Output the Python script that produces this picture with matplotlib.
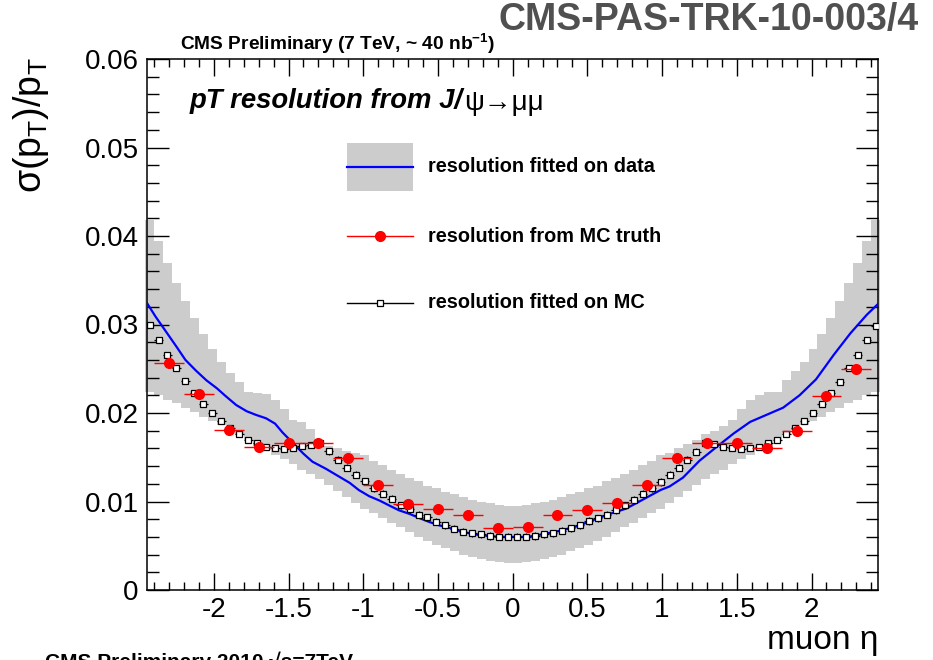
import numpy as np
import matplotlib
matplotlib.use('Agg')
import matplotlib.pyplot as plt
from matplotlib.patches import Rectangle
from matplotlib.lines import Line2D

plt.rcParams['font.family'] = ['Liberation Sans', 'DejaVu Sans']
plt.rcParams['mathtext.fontset'] = 'custom'
plt.rcParams['mathtext.rm'] = 'Liberation Sans'
plt.rcParams['mathtext.it'] = 'Liberation Sans:italic'
plt.rcParams['mathtext.bf'] = 'Liberation Sans:bold'

# ---------------- data ----------------
band_eta_min = -2.46
band_eta_max = 2.46

band_upper = [0.0418, 0.0394, 0.0370, 0.0347, 0.0327, 0.0307, 0.0289, 0.0272, 0.0258, 0.0245,
              0.0235, 0.0224, 0.0223, 0.0221, 0.0215, 0.0205, 0.0192, 0.0190, 0.0182, 0.0170,
              0.0163, 0.0160, 0.0157, 0.0155, 0.0152, 0.0146, 0.0141, 0.0136, 0.0131, 0.0127,
              0.0123, 0.0118, 0.0115, 0.0111, 0.0108, 0.0105, 0.0102, 0.0100, 0.0098, 0.0096,
              0.0095,
              0.0095, 0.0096, 0.0098, 0.0100, 0.0102, 0.0105, 0.0108, 0.0111, 0.0115, 0.0118,
              0.0123, 0.0127, 0.0131, 0.0136, 0.0141, 0.0146, 0.0152, 0.0155, 0.0160, 0.0165,
              0.0170, 0.0176, 0.0180, 0.0185, 0.0192, 0.0205, 0.0215, 0.0220, 0.0224, 0.0224,
              0.0237, 0.0248, 0.0258, 0.0272, 0.0289, 0.0307, 0.0326, 0.0347, 0.0370, 0.0394,
              0.0418]

band_lower = [0.0224, 0.0220, 0.0215, 0.0211, 0.0206, 0.0201, 0.0196, 0.0191, 0.0187, 0.0181,
              0.0175, 0.0169, 0.0163, 0.0158, 0.0153, 0.0148, 0.0142, 0.0136, 0.0131, 0.0125,
              0.0119, 0.0112, 0.0105, 0.0098, 0.0092, 0.0087, 0.0081, 0.0076, 0.0071, 0.0066,
              0.0060, 0.0055, 0.0051, 0.0047, 0.0044, 0.0040, 0.0037, 0.0035, 0.0033, 0.0032,
              0.0031,
              0.0031, 0.0032, 0.0033, 0.0035, 0.0037, 0.0040, 0.0044, 0.0047, 0.0051, 0.0055,
              0.0060, 0.0066, 0.0071, 0.0076, 0.0081, 0.0087, 0.0092, 0.0098, 0.0105, 0.0112,
              0.0119, 0.0125, 0.0131, 0.0136, 0.0142, 0.0148, 0.0153, 0.0158, 0.0163, 0.0169,
              0.0175, 0.0181, 0.0187, 0.0191, 0.0196, 0.0201, 0.0206, 0.0211, 0.0215, 0.0220,
              0.0224]

mc_res = [0.0299, 0.0282, 0.0266, 0.0251, 0.0236, 0.0223, 0.0210, 0.0200, 0.0191, 0.0183,
          0.0176, 0.0170, 0.0166, 0.0162, 0.0161, 0.0159, 0.0161, 0.0163, 0.0164, 0.0166,
          0.0157, 0.0147, 0.0138, 0.0130, 0.0123, 0.0115, 0.0109, 0.0103, 0.0096, 0.0091,
          0.0085, 0.0082, 0.0077, 0.0073, 0.0069, 0.0066, 0.0064, 0.0063, 0.0061, 0.0060,
          0.0060,
          0.0060, 0.0060, 0.0061, 0.0063, 0.0064, 0.0067, 0.0070, 0.0073, 0.0078, 0.0081,
          0.0085, 0.0090, 0.0096, 0.0102, 0.0109, 0.0115, 0.0122, 0.0130, 0.0138, 0.0147,
          0.0156, 0.0166, 0.0165, 0.0162, 0.0161, 0.0159, 0.0161, 0.0162, 0.0166, 0.0170,
          0.0176, 0.0183, 0.0191, 0.0200, 0.0210, 0.0223, 0.0235, 0.0251, 0.0266, 0.0282,
          0.0298]

mc_err = [0.0002] * 20 + [0.0004] * 42 + [0.0002] * 20

truth_eta = [-2.3, -2.1, -1.9, -1.7, -1.5, -1.3, -1.1, -0.9, -0.7, -0.5, -0.3, -0.1,
             0.1, 0.3, 0.5, 0.7, 0.9, 1.1, 1.3, 1.5, 1.7, 1.9, 2.1, 2.3]
truth_res = [0.0257, 0.0221, 0.0181, 0.0162, 0.0166, 0.0166, 0.0149, 0.0119, 0.0097, 0.0091,
             0.0085, 0.0070, 0.0071, 0.0085, 0.0090, 0.0098, 0.0119, 0.0149, 0.0166, 0.0166,
             0.0161, 0.0180, 0.0219, 0.0250]
truth_err = [0.0003] * 24
truth_xerr = 0.1

fit_eta = [-2.45, -2.39, -2.32, -2.25, -2.19, -2.12, -2.05, -1.98, -1.92, -1.85,
           -1.78, -1.72, -1.65, -1.59, -1.54, -1.47, -1.40, -1.34, -1.25, -1.16,
           -1.09, -1.03, -0.96, -0.89, -0.82, -0.76, -0.69, -0.62, -0.56, -0.49,
           -0.42, -0.36, -0.29, -0.22, -0.15, -0.09, 0.00, 0.10, 0.20, 0.32,
           0.43, 0.54, 0.65, 0.76, 0.87, 0.99, 1.05, 1.14, 1.25, 1.36,
           1.48, 1.59, 1.70, 1.81, 1.92, 2.03, 2.15, 2.26, 2.37, 2.45]
fit_res = [0.0325, 0.0309, 0.0292, 0.0275, 0.0260, 0.0248, 0.0237, 0.0228, 0.0219, 0.0209,
           0.0202, 0.0198, 0.0194, 0.0188, 0.0178, 0.0166, 0.0154, 0.0145, 0.0137, 0.0128,
           0.0121, 0.0113, 0.0106, 0.0101, 0.0095, 0.0090, 0.0086, 0.0081, 0.0077, 0.0073,
           0.0070, 0.0067, 0.0064, 0.0062, 0.0061, 0.0060, 0.0060, 0.0060, 0.0063, 0.0067,
           0.0072, 0.0079, 0.0086, 0.0092, 0.0102, 0.0113, 0.0117, 0.0127, 0.0146, 0.0161,
           0.0177, 0.0190, 0.0198, 0.0206, 0.0220, 0.0238, 0.0266, 0.0290, 0.0311, 0.0324]

x_ticks = [-2, -1.5, -1, -0.5, 0, 0.5, 1, 1.5, 2]
x_tick_labels = ['-2', '-1.5', '-1', '-0.5', '0', '0.5', '1', '1.5', '2']
y_ticks = [0, 0.01, 0.02, 0.03, 0.04, 0.05, 0.06]
y_tick_labels = ['0', '0.01', '0.02', '0.03', '0.04', '0.05', '0.06']

legend_labels = ['resolution fitted on data', 'resolution from MC truth', 'resolution fitted on MC']

# ---------------- figure ----------------
W, H = 933, 660
fig = plt.figure(figsize=(W / 100, H / 100), dpi=100)
L, R, T, B = 147, 878.3, 59, 590
ax = fig.add_axes([L / W, 1 - B / H, (R - L) / W, (B - T) / H])

nb = len(band_upper)
edges = np.linspace(band_eta_min, band_eta_max, nb + 1)
centers = 0.5 * (edges[:-1] + edges[1:])
halfw = 0.5 * (edges[1] - edges[0])

band_col = '#cccccc'
ax.stairs(band_upper, edges, baseline=band_lower, fill=True, color=band_col,
          linewidth=0, zorder=1, clip_on=False)

ax.plot(fit_eta, fit_res, color='#0000ff', lw=1.6, zorder=3)

ax.errorbar(centers, mc_res, xerr=halfw, yerr=mc_err, fmt='s', ms=4.8, mfc='white',
            mec='black', mew=0.9, ecolor='black', elinewidth=0.9, capsize=0, zorder=4)

ax.errorbar(truth_eta, truth_res, xerr=truth_xerr, yerr=truth_err, fmt='o', ms=7,
            mfc='#ff0000', mec='#ff0000', ecolor='#ff0000', elinewidth=1.0, capsize=0, zorder=5)

ax.set_xlim(-2.447, 2.447)
ax.set_ylim(0, 0.06)
ax.set_xticks(x_ticks)
ax.set_xticklabels(x_tick_labels)
ax.set_yticks(y_ticks)
ax.set_yticklabels(y_tick_labels)
ax.set_xticks(np.arange(-24, 25) / 10.0, minor=True)
ax.set_yticks(np.arange(0, 31) * 0.002, minor=True)
ax.tick_params(axis='both', which='both', direction='in', top=True, right=True,
               labelsize=20, width=1.0, colors='black')
ax.tick_params(axis='x', which='major', length=12, pad=5)
ax.tick_params(axis='x', which='minor', length=6)
ax.tick_params(axis='y', which='major', length=16, pad=6)
ax.tick_params(axis='y', which='minor', length=8.5)
for s in ax.spines.values():
    s.set_linewidth(1.1)

# overlay in pixel coordinates
ov = fig.add_axes([0, 0, 1, 1], facecolor='none')
ov.set_xlim(0, W)
ov.set_ylim(H, 0)
ov.axis('off')

# legend
ov.add_patch(Rectangle((347, 143), 66, 48, facecolor=band_col, edgecolor='none'))
ov.add_line(Line2D([347, 413], [167, 167], color='#0000ff', lw=1.6))
ov.add_line(Line2D([347, 413], [236, 236], color='#ff0000', lw=1.0))
ov.plot([380], [236], 'o', ms=7, color='#ff0000')
ov.add_line(Line2D([347, 413], [303, 303], color='black', lw=1.0))
ov.plot([380], [303], 's', ms=4.8, mfc='white', mec='black', mew=0.9)
for yy, lab in zip([167, 236, 303], legend_labels):
    ov.text(428, yy, lab, fontsize=14.3, fontweight='bold', va='center', ha='left')

# texts
ov.text(919, 20, 'CMS-PAS-TRK-10-003/4', fontsize=27, fontweight='bold', color='#505050',
        ha='right', va='center')
ov.text(180, 44, r'CMS Preliminary (7 TeV, ~ 40 nb$^{\mathbf{-1}}$)', fontsize=13.8,
        fontweight='bold', ha='left', va='center')
t1 = ov.text(190, 101, 'pT resolution from J/', fontsize=19.8, fontweight='bold',
             style='italic', ha='left', va='center')
fig.canvas.draw()
bb = t1.get_window_extent(renderer=fig.canvas.get_renderer())
x_end = bb.x1 * W / fig.bbox.width
ov.text(x_end + 1, 103, 'ψ→μμ', fontsize=20, ha='left', va='center')
ov.text(31, 125, r'$\mathregular{\sigma(p_T)/p_T}$', fontsize=27, rotation=90,
        ha='center', va='center')
ov.text(878, 649, 'muon η', fontsize=24, ha='right', va='baseline')
ov.text(45, 652, 'CMS Preliminary 2010 √s=7TeV', fontsize=15, fontweight='bold',
        ha='left', va='top')

fig.savefig('out.png', dpi=100)
